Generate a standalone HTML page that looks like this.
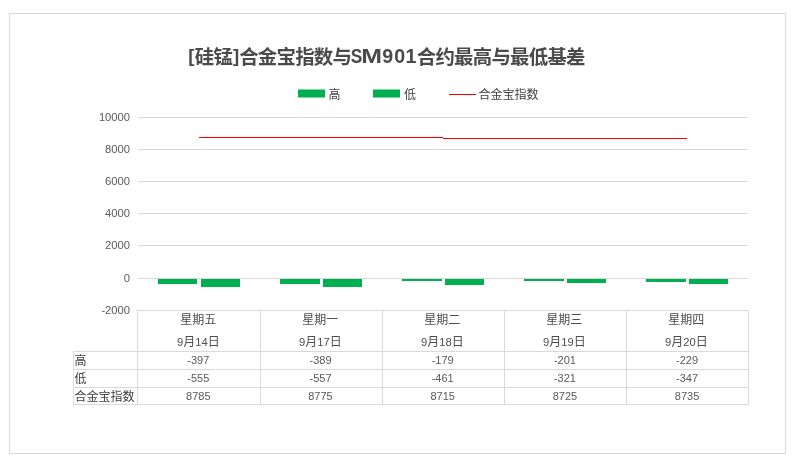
<!DOCTYPE html>
<html lang="zh-CN">
<head>
<meta charset="utf-8">
<title>[硅锰]合金宝指数与SM901合约最高与最低基差</title>
<style>
html,body{margin:0;padding:0;background:#fff;}
body{width:801px;height:468px;overflow:hidden;}
svg{display:block;}
text{font-family:"Liberation Sans","Noto Sans CJK SC",sans-serif;fill:#595959;}
.t{font-size:18.67px;font-weight:bold;fill:#4a4a4a;}
.k{font-size:19.4px;letter-spacing:-0.73px;}
.a{font-size:11.2px;}
.c{font-size:12px;fill:#4d4d4d;}
.v{font-size:11px;}
.l{font-size:12px;fill:#404040;}
</style>
</head>
<body>
<svg width="801" height="468" viewBox="0 0 801 468">
<rect x="0" y="0" width="801" height="468" fill="#fff"/>
<g shape-rendering="crispEdges" fill="none" stroke="#d9d9d9" stroke-width="1">
<rect x="9.5" y="13.5" width="776" height="440"/>
<line x1="138" y1="117.5" x2="748" y2="117.5"/>
<line x1="138" y1="149.5" x2="748" y2="149.5"/>
<line x1="138" y1="181.5" x2="748" y2="181.5"/>
<line x1="138" y1="213.5" x2="748" y2="213.5"/>
<line x1="138" y1="245.5" x2="748" y2="245.5"/>
<line x1="138" y1="278.5" x2="748" y2="278.5"/>
<line x1="138" y1="310.5" x2="748" y2="310.5"/>
<line x1="137.5" y1="310" x2="137.5" y2="405"/>
<line x1="260.5" y1="310" x2="260.5" y2="405"/>
<line x1="382.5" y1="310" x2="382.5" y2="405"/>
<line x1="504.5" y1="310" x2="504.5" y2="405"/>
<line x1="626.5" y1="310" x2="626.5" y2="405"/>
<line x1="748.5" y1="310" x2="748.5" y2="405"/>
<line x1="73.5" y1="352" x2="73.5" y2="405" stroke="#e0e0e0"/>
<line x1="73" y1="351.5" x2="749" y2="351.5"/>
<line x1="73" y1="369.5" x2="749" y2="369.5"/>
<line x1="73" y1="387.5" x2="749" y2="387.5"/>
<line x1="73" y1="404.5" x2="749" y2="404.5"/>
</g>
<g shape-rendering="crispEdges" fill="#00b050">
<rect x="158" y="279" width="39" height="5"/>
<rect x="201" y="279" width="39" height="8"/>
<rect x="280" y="279" width="40" height="5"/>
<rect x="323" y="279" width="39" height="8"/>
<rect x="402" y="279" width="40" height="2"/>
<rect x="445" y="279" width="39" height="6"/>
<rect x="524" y="279" width="40" height="2"/>
<rect x="567" y="279" width="39" height="4"/>
<rect x="646" y="279" width="40" height="3"/>
<rect x="689" y="279" width="39" height="5"/>
<rect x="298" y="89.5" width="27" height="8" shape-rendering="geometricPrecision"/>
<rect x="373" y="89.5" width="27" height="8" shape-rendering="geometricPrecision"/>
</g>
<g shape-rendering="crispEdges" fill="#ff0000">
<rect x="199" y="137" width="244" height="1"/>
<rect x="443" y="138" width="244" height="1"/>
<rect x="449" y="94" width="27" height="1"/>
</g>
<text class="t" x="188.2" y="61.5">[</text>
<text class="t k" x="194.8" y="63.6">硅锰</text>
<text class="t" x="232.9" y="61.5">]</text>
<text class="t k" x="239.2" y="63.6">合金宝指数与</text>
<text class="t" transform="translate(350.8 62.5) scale(0.88 1)" style="font-size:19.6px">S</text>
<text class="t" transform="translate(361.2 62.5) scale(1.27 1)" style="font-size:19.6px">M</text>
<text class="t" x="382.3 394.3 405.6" y="62.5" style="font-size:19.6px">901</text>
<text class="t k" x="416.8" y="63.6">合约最高与最低基差</text>
<text class="l" x="328.4" y="98.5">高</text>
<text class="l" x="404" y="98.5">低</text>
<text class="l" x="478.5" y="98.5">合金宝指数</text>
<text class="a" x="130" y="120.6" text-anchor="end">10000</text>
<text class="a" x="130" y="152.6" text-anchor="end">8000</text>
<text class="a" x="130" y="184.6" text-anchor="end">6000</text>
<text class="a" x="130" y="216.6" text-anchor="end">4000</text>
<text class="a" x="130" y="248.6" text-anchor="end">2000</text>
<text class="a" x="130" y="281.6" text-anchor="end">0</text>
<text class="a" x="130" y="313.6" text-anchor="end">-2000</text>
<text class="c" x="198.3" y="324" text-anchor="middle">星期五</text>
<text class="c" x="198.3" y="345.7" text-anchor="middle"><tspan class="a">9</tspan>月<tspan class="a">14</tspan>日</text>
<text class="v" x="198.3" y="364.3" text-anchor="middle">-397</text>
<text class="v" x="198.3" y="382" text-anchor="middle">-555</text>
<text class="v" x="198.3" y="399.6" text-anchor="middle">8785</text>
<text class="c" x="320.3" y="324" text-anchor="middle">星期一</text>
<text class="c" x="320.3" y="345.7" text-anchor="middle"><tspan class="a">9</tspan>月<tspan class="a">17</tspan>日</text>
<text class="v" x="320.5" y="364.3" text-anchor="middle">-389</text>
<text class="v" x="320.5" y="382" text-anchor="middle">-557</text>
<text class="v" x="320.5" y="399.6" text-anchor="middle">8775</text>
<text class="c" x="442.3" y="324" text-anchor="middle">星期二</text>
<text class="c" x="442.3" y="345.7" text-anchor="middle"><tspan class="a">9</tspan>月<tspan class="a">18</tspan>日</text>
<text class="v" x="442.7" y="364.3" text-anchor="middle">-179</text>
<text class="v" x="442.7" y="382" text-anchor="middle">-461</text>
<text class="v" x="442.7" y="399.6" text-anchor="middle">8715</text>
<text class="c" x="564.3" y="324" text-anchor="middle">星期三</text>
<text class="c" x="564.3" y="345.7" text-anchor="middle"><tspan class="a">9</tspan>月<tspan class="a">19</tspan>日</text>
<text class="v" x="564.9" y="364.3" text-anchor="middle">-201</text>
<text class="v" x="564.9" y="382" text-anchor="middle">-321</text>
<text class="v" x="564.9" y="399.6" text-anchor="middle">8725</text>
<text class="c" x="686.3" y="324" text-anchor="middle">星期四</text>
<text class="c" x="686.3" y="345.7" text-anchor="middle"><tspan class="a">9</tspan>月<tspan class="a">20</tspan>日</text>
<text class="v" x="687.1" y="364.3" text-anchor="middle">-229</text>
<text class="v" x="687.1" y="382" text-anchor="middle">-347</text>
<text class="v" x="687.1" y="399.6" text-anchor="middle">8735</text>
<text class="l" x="74.5" y="364.8">高</text>
<text class="l" x="74.5" y="382.5">低</text>
<text class="l" x="74.5" y="400.8">合金宝指数</text>
</svg>
</body>
</html>
